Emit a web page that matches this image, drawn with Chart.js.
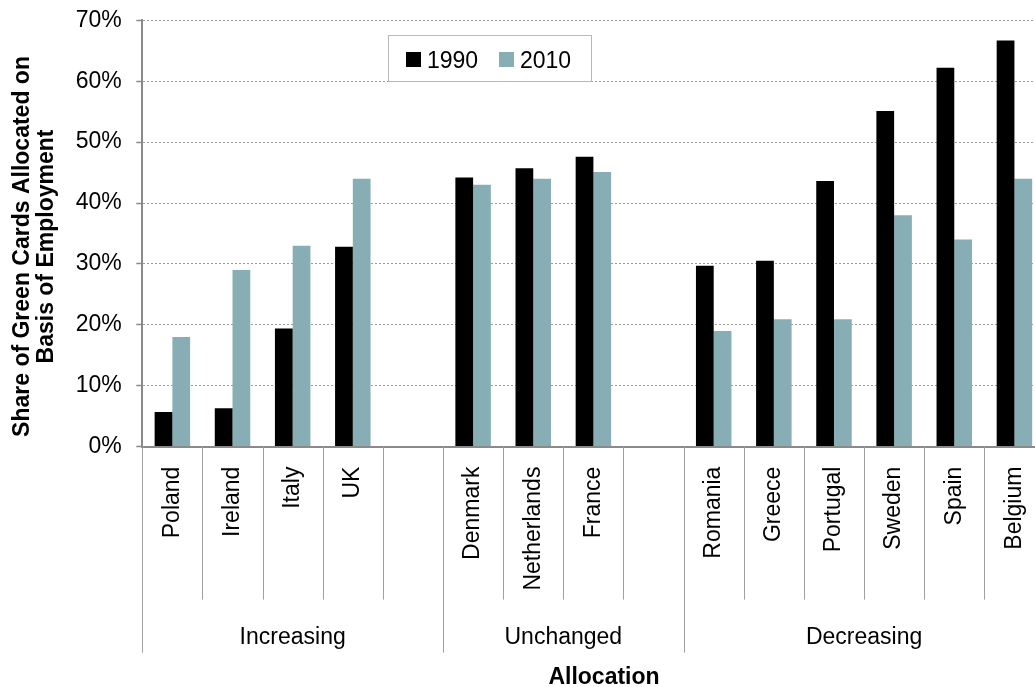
<!DOCTYPE html>
<html>
<head>
<meta charset="utf-8">
<script src="https://cdn.jsdelivr.net/npm/chart.js@4.4.0/dist/chart.umd.min.js"></script>
<style>
  html, body { margin: 0; padding: 0; background: #fff; overflow: hidden; }
  #wrap { width: 1046px; height: 687px; }
</style>
</head>
<body>
<div id="wrap"><canvas id="chart" width="1046" height="687"></canvas></div>
<script>
// データ
const countries = ['Poland', 'Ireland', 'Italy', 'UK', '', 'Denmark', 'Netherlands', 'France', '',
  'Romania', 'Greece', 'Portugal', 'Sweden', 'Spain', 'Belgium'];
const groupNames = ['Increasing', 'Unchanged', 'Decreasing'];
const groupSizes = [5, 4, 6];
const share1990 = [5.7, 6.3, 19.4, 32.8, null, 44.2, 45.7, 47.6, null, 29.7, 30.5, 43.6, 55.1, 62.2, 66.7];
const share2010 = [18, 29, 33, 44, null, 43, 44, 45.1, null, 19, 20.9, 20.9, 38, 34, 44];
const seriesNames = ['1990', '2010'];
const seriesColors = ['#000000', '#86aeb4'];
const yMax = 70;
const yStep = 10;
const yTitle = ['Share of Green Cards Allocated on', 'Basis of Employment'];
const xTitle = 'Allocation';

const FONT = '"Liberation Sans", Arial, sans-serif';

// 区切り線・グループ名・軸タイトル・凡例
const extras = {
  id: 'extras',
  afterDraw(chart) {
    const { ctx, chartArea } = chart;
    const x = chart.scales.x;
    const step = x.getPixelForValue(1) - x.getPixelForValue(0);
    const bottom = chartArea.bottom;

    // グループの境目
    const starts = [0];
    groupSizes.forEach(n => starts.push(starts[starts.length - 1] + n));

    ctx.save();
    ctx.strokeStyle = '#a0a0a0';
    ctx.lineWidth = 1;
    for (let b = 0; b <= countries.length; b++) {
      const px = Math.round(x.getPixelForValue(b) - step / 2) + 0.5;
      const len = starts.includes(b) ? 206 : 153;
      ctx.beginPath();
      ctx.moveTo(px, bottom);
      ctx.lineTo(px, bottom + len);
      ctx.stroke();
    }

    // グループ名
    ctx.fillStyle = '#000';
    ctx.font = '23px ' + FONT;
    ctx.textAlign = 'center';
    ctx.textBaseline = 'alphabetic';
    groupNames.forEach((name, i) => {
      const a = x.getPixelForValue(starts[i]) - step / 2;
      const b = x.getPixelForValue(starts[i + 1]) - step / 2;
      ctx.fillText(name, (a + b) / 2, bottom + 197);
    });

    // 軸タイトル
    ctx.font = 'bold 23px ' + FONT;
    ctx.fillText(xTitle, 604, 684);

    ctx.save();
    ctx.translate(0, 246.5);
    ctx.rotate(-Math.PI / 2);
    yTitle.forEach((line, i) => ctx.fillText(line, 0, 28.5 + i * 24));
    ctx.restore();

    // 凡例
    ctx.fillStyle = '#fff';
    ctx.fillRect(388, 35, 204, 47);
    ctx.strokeStyle = '#b8b8b8';
    ctx.strokeRect(388.5, 35.5, 203, 46);
    ctx.font = '23px ' + FONT;
    ctx.textAlign = 'left';
    const itemX = [406, 499];
    chart.data.datasets.forEach((ds, i) => {
      ctx.fillStyle = ds.backgroundColor;
      ctx.fillRect(itemX[i], 52, 15, 15);
      ctx.fillStyle = '#000';
      ctx.fillText(ds.label, itemX[i] + 21, 67.5);
    });
    ctx.restore();
  }
};

new Chart(document.getElementById('chart'), {
  type: 'bar',
  data: {
    labels: countries,
    datasets: [
      { label: seriesNames[0], data: share1990, backgroundColor: seriesColors[0] },
      { label: seriesNames[1], data: share2010, backgroundColor: seriesColors[1] }
    ]
  },
  options: {
    responsive: false,
    animation: false,
    devicePixelRatio: 1,
    layout: { padding: { top: 20.3, right: 1.5, left: 0, bottom: 0 } },
    datasets: {
      bar: { categoryPercentage: 0.59, barPercentage: 1, borderWidth: 0 }
    },
    plugins: {
      legend: { display: false },
      tooltip: { enabled: false }
    },
    scales: {
      x: {
        grid: { display: false },
        border: { display: true, color: '#8a8a8a', width: 2 },
        ticks: {
          autoSkip: false,
          minRotation: 90,
          maxRotation: 90,
          padding: 12,
          color: '#000',
          font: { family: FONT, size: 23 }
        },
        afterFit(scale) {
          scale.height = 240.4;
          scale.paddingLeft = 0;
          scale.paddingRight = 0;
        }
      },
      y: {
        min: 0,
        max: yMax,
        grid: {
          color: c => (c.tick && c.tick.value === 0 ? 'rgba(0,0,0,0)' : '#9c9c9c'),
          lineWidth: 1,
          tickLength: 6,
          tickColor: '#8a8a8a',
          tickWidth: 1.5
        },
        border: { display: true, color: '#8a8a8a', width: 2, dash: [2, 2] },
        ticks: {
          stepSize: yStep,
          padding: 14.6,
          color: '#000',
          font: { family: FONT, size: 23 },
          callback: v => v + '%'
        },
        afterFit(scale) {
          scale.width = 142.3;
          scale.paddingTop = 0;
          scale.paddingBottom = 0;
        }
      }
    }
  },
  plugins: [extras]
});
</script>
</body>
</html>
